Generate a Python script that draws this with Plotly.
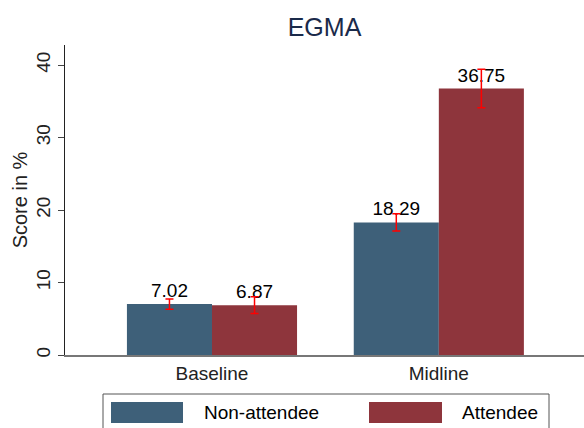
import plotly.graph_objects as go

rounds = ['Baseline', 'Midline']
non_attendee = [7.02, 18.29]
attendee = [6.87, 36.75]
non_attendee_err = [0.7, 1.2]
attendee_err = [1.15, 2.65]

blue = '#3e6079'
red = '#8e353c'
font = 'Arial, Liberation Sans, sans-serif'

fig = go.Figure()
fig.add_trace(go.Bar(
    x=rounds, y=non_attendee, name='Non-attendee', marker=dict(color=blue, line=dict(width=0)),
    text=[f'{v:.2f}' for v in non_attendee], textposition='outside', cliponaxis=False,
    textfont=dict(size=19, color='black'),
    error_y=dict(type='data', array=non_attendee_err, color='red', thickness=1.5, width=4)))
fig.add_trace(go.Bar(
    x=rounds, y=attendee, name='Attendee', marker=dict(color=red, line=dict(width=0)),
    text=[f'{v:.2f}' for v in attendee], textposition='outside', cliponaxis=False,
    textfont=dict(size=19, color='black'),
    error_y=dict(type='data', array=attendee_err, color='red', thickness=1.5, width=4)))

# legend drawn by hand (wide swatches in a box)
def px_x(p):
    return (p - 65) / 519

def px_y(p):
    return (355 - p) / 310

shapes = [
    dict(type='rect', xref='paper', yref='paper', x0=px_x(103), x1=px_x(549), y0=px_y(440), y1=px_y(394),
         line=dict(color='#555555', width=1), fillcolor='white'),
    dict(type='rect', xref='paper', yref='paper', x0=px_x(111), x1=px_x(183), y0=px_y(423), y1=px_y(402),
         line=dict(width=0), fillcolor=blue),
    dict(type='rect', xref='paper', yref='paper', x0=px_x(369), x1=px_x(442), y0=px_y(423), y1=px_y(402),
         line=dict(width=0), fillcolor=red),
]
annotations = [
    dict(text='Non-attendee', xref='paper', yref='paper', x=px_x(202), y=px_y(412.5), xanchor='left', yanchor='middle',
         showarrow=False, font=dict(size=19, color='black')),
    dict(text='Attendee', xref='paper', yref='paper', x=px_x(460), y=px_y(412.5), xanchor='left', yanchor='middle',
         showarrow=False, font=dict(size=19, color='black')),
]

fig.update_layout(
    width=584, height=428,
    margin=dict(l=65, r=0, t=45, b=73, autoexpand=False),
    paper_bgcolor='white', plot_bgcolor='white',
    font=dict(family=font, size=18, color='#222222'),
    title=dict(text='EGMA', x=(65 + 584) / 2 / 584, xanchor='center', y=1 - 27 / 428, yanchor='middle',
               font=dict(size=25, color='#1a2a4a')),
    barmode='group', bargap=0.25, bargroupgap=0,
    showlegend=False,
    shapes=shapes, annotations=annotations,
)
fig.update_xaxes(
    range=[-0.648, 1.64], showline=True, linecolor='#777777', linewidth=1.5, ticks='',
    tickfont=dict(size=19, color='#222222'), showgrid=False, zeroline=False, automargin=False)
fig.update_yaxes(
    range=[0, 42.76], showline=True, linecolor='#222222', linewidth=1, ticks='outside', ticklen=6,
    tickvals=[0, 10, 20, 30, 40], tickangle=-90, tickfont=dict(size=19, color='#222222'),
    title=dict(text='Score in %', font=dict(size=20, color='#222222'), standoff=0),
    showgrid=False, zeroline=False, automargin=False)

# page body has a default 8px margin; drop it so the figure fills the window
fig.write_html('out.html', config={'displayModeBar': False},
               post_script="document.body.style.margin='0';")
